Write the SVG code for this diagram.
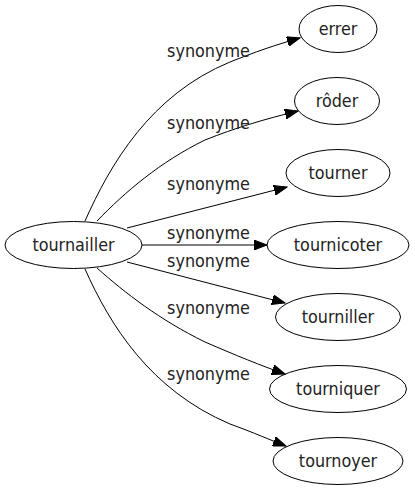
<svg xmlns="http://www.w3.org/2000/svg" width="415" height="491" viewBox="0 0 415 491">
<style>
.node ellipse{fill:none;stroke:#000;stroke-width:1}
text{font-family:"DejaVu Sans Condensed","DejaVu Sans",sans-serif;font-stretch:condensed;font-size:17.8px;fill:#222}
.node text{text-anchor:middle}
.edges path{fill:none;stroke:#000;stroke-width:1}
.lbl{text-anchor:middle}
</style>
<defs>
<marker id="arr" markerWidth="14" markerHeight="10" refX="13" refY="5" orient="auto" markerUnits="userSpaceOnUse">
<path d="M0,0 L13,5 L0,10 Z" fill="#000" stroke="#000" stroke-width="1"/>
</marker>
</defs>
<rect width="415" height="491" fill="#fff"/>
<g class="edges">
<path d="M85,221 C110,165 150,95 230,62 C255,52 275,45 300,38" marker-end="url(#arr)"/>
<path d="M97,221 C125,192 160,162 205,140 C235,128 265,119 298,111" marker-end="url(#arr)"/>
<path d="M127,228 L287,187" marker-end="url(#arr)"/>
<path d="M142,245 L267,245" marker-end="url(#arr)"/>
<path d="M127,262 L285,303" marker-end="url(#arr)"/>
<path d="M97,268 C125,293 160,320 205,342 C235,355 262,366 285,374" marker-end="url(#arr)"/>
<path d="M85,269 C110,325 150,390 230,424 C255,433 270,440 286,446" marker-end="url(#arr)"/>
<text class="lbl" x="208.5" y="57">synonyme</text>
<text class="lbl" x="208.5" y="129">synonyme</text>
<text class="lbl" x="208.5" y="190">synonyme</text>
<text class="lbl" x="208.5" y="239">synonyme</text>
<text class="lbl" x="208.5" y="267">synonyme</text>
<text class="lbl" x="208.5" y="314">synonyme</text>
<text class="lbl" x="208.5" y="380">synonyme</text>
</g>
<g id="tournailler" class="node"><ellipse cx="73.5" cy="245" rx="68.5" ry="23.5"/><text x="73.5" y="251">tournailler</text></g>
<g id="errer" class="node"><ellipse cx="338" cy="29" rx="39" ry="23.5"/><text x="338" y="35">errer</text></g>
<g id="roder" class="node"><ellipse cx="337" cy="101" rx="42.5" ry="23.5"/><text x="337" y="107">rôder</text></g>
<g id="tourner" class="node"><ellipse cx="338" cy="173" rx="52" ry="23.5"/><text x="338" y="179">tourner</text></g>
<g id="tournicoter" class="node"><ellipse cx="338" cy="245" rx="71" ry="23.5"/><text x="338" y="251">tournicoter</text></g>
<g id="tourniller" class="node"><ellipse cx="338" cy="317" rx="62.5" ry="23.5"/><text x="338" y="323">tourniller</text></g>
<g id="tourniquer" class="node"><ellipse cx="338" cy="389" rx="68.5" ry="23.5"/><text x="338" y="395">tourniquer</text></g>
<g id="tournoyer" class="node"><ellipse cx="338" cy="461" rx="65" ry="23.5"/><text x="338" y="467">tournoyer</text></g>
</svg>
